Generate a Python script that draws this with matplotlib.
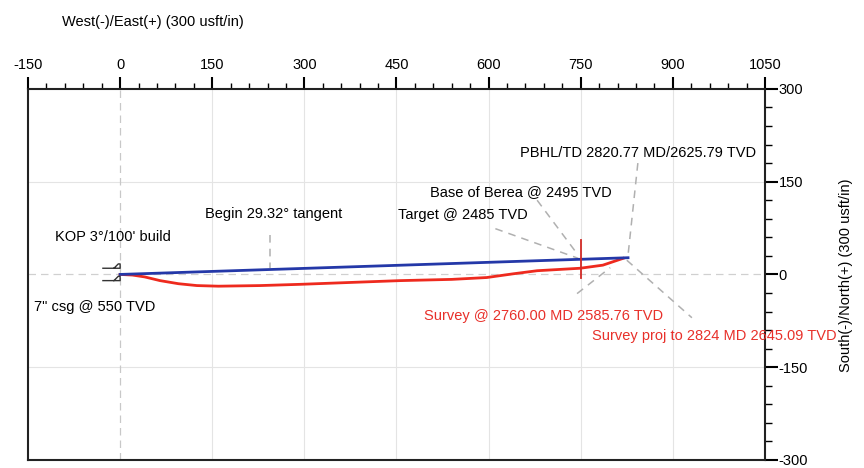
import numpy as np
import matplotlib.pyplot as plt
from matplotlib.ticker import MultipleLocator

plt.rcParams['font.family'] = ['Liberation Sans', 'DejaVu Sans']
plt.rcParams['axes.unicode_minus'] = False

# Plan (blue) and survey (red) - East/West vs North/South, usft
plan_ew = [0, 827]
plan_ns = [0, 27]

survey_ew = [0, 20, 40, 65, 95, 125, 160, 228, 293, 374, 456, 540, 597, 640, 679, 749, 786, 819]
survey_ns = [0, -1, -4, -10, -15, -18, -19, -18, -16, -13, -10, -8, -5, 1, 6, 10, 15, 26]

# Annotations: text, text position, leader line start / end, colour
notes = [
    ("KOP 3\u00b0/100' build", (-106, 60), None, 'k'),
    ('7" csg @ 550 TVD', (-140, -52), None, 'k'),
    ("Begin 29.32\u00b0 tangent", (138, 97), ((244, 63), (244, 10)), 'k'),
    ("Target @ 2485 TVD", (453, 96), ((611, 74), (746, 26)), 'k'),
    ("Base of Berea @ 2495 TVD", (505, 134), ((679, 120), (746, 31)), 'k'),
    ("PBHL/TD 2820.77 MD/2625.79 TVD", (651, 196), ((843, 180), (827, 31)), 'k'),
    ("Survey @ 2760.00 MD 2585.76 TVD", (495, -68), ((744, -31), (798, 11)), '#e8302a'),
    ("Survey proj to 2824 MD 2645.09 TVD", (769, -99), ((825, 23), (931, -70)), '#e8302a'),
]

fig = plt.figure(figsize=(8.64, 4.68), dpi=100)
ax = fig.add_axes([0.0324, 0.0171, 0.853, 0.793])
ax.set_xlim(-150, 1050)
ax.set_ylim(-300, 300)

# grid
for gx in np.arange(150, 1050, 150):
    ax.axvline(gx, color='#e4e4e4', lw=0.8, zorder=0)
for gy in [-150, 150]:
    ax.axhline(gy, color='#e4e4e4', lw=0.8, zorder=0)
ax.axvline(0, color='#c8c8c8', lw=0.9, ls=(0, (6, 4)), zorder=0)
ax.axhline(0, color='#d0d0d0', lw=0.9, ls=(0, (6, 4)), zorder=0)

# wellpaths
ax.plot(plan_ew, plan_ns, color='#2438a8', lw=2, zorder=3)
ax.plot(survey_ew, survey_ns, color='#ee2a1e', lw=2, zorder=2)
ax.plot([750, 750], [-6, 55], color='#d22a26', lw=1.3, zorder=4)

# casing symbols near surface location
for cy in [10, -10]:
    ax.plot([-28, -10, -3, 0, 0, -10], [cy, cy, cy + 7, cy + 7, cy, cy],
            color='#333333', lw=1, zorder=3)

# leaders and labels
for text, pos, leader, col in notes:
    if leader is not None:
        (x0, y0), (x1, y1) = leader
        ax.plot([x0, x1], [y0, y1], color='#b0b0b0', lw=1.1,
                ls=(0, (5, 4)), zorder=1)
    ax.text(pos[0], pos[1], text, color=col, fontsize=10.5,
            ha='left', va='center', zorder=5)

# axes styling
for s in ax.spines.values():
    s.set_linewidth(1.5)
    s.set_color('#222222')

ax.xaxis.set_major_locator(MultipleLocator(150))
ax.xaxis.set_minor_locator(MultipleLocator(30))
ax.yaxis.set_major_locator(MultipleLocator(150))
ax.yaxis.set_minor_locator(MultipleLocator(30))
ax.xaxis.tick_top()
ax.yaxis.tick_right()
ax.tick_params(axis='x', which='major', direction='out', length=9, width=1.5,
               labelsize=10.5, pad=3)
ax.tick_params(axis='x', which='minor', direction='out', length=4, width=1)
ax.tick_params(axis='y', which='major', direction='out', length=9, width=1.5,
               labelsize=10.5, pad=1)
ax.tick_params(axis='y', which='minor', direction='out', length=5, width=1)

fig.text(62 / 864, 1 - 22 / 468, 'West(-)/East(+) (300 usft/in)',
         fontsize=10.5, ha='left', va='center')
fig.text(846 / 864, 1 - 275 / 468, 'South(-)/North(+) (300 usft/in)',
         fontsize=10.5, ha='center', va='center', rotation=90)

fig.savefig('out.png', dpi=100)
